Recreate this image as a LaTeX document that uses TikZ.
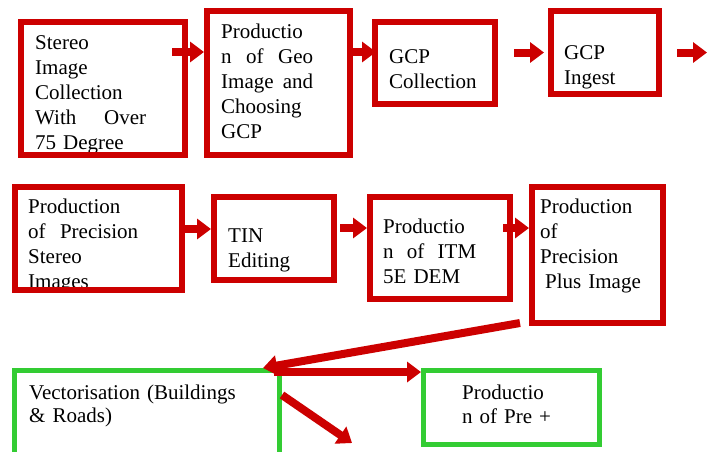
\documentclass[tikz,border=0pt]{standalone}
\usepackage{fontspec}
\setmainfont{Liberation Serif}
\usepackage{tikz}
\usetikzlibrary{arrows.meta,positioning}
\definecolor{stepred}{RGB}{204,0,0}
\definecolor{stepgreen}{RGB}{51,204,51}

\begin{document}
\begin{tikzpicture}[x=1pt, y=-1pt,
    redbox/.style={draw=stepred, line width=6pt, anchor=north west, inner sep=0pt},
    greenbox/.style={draw=stepgreen, line width=5pt, anchor=north west, inner sep=0pt},
    steptext/.style={anchor=base west, align=left, inner sep=0pt, text width=#1,
      font=\fontsize{21}{25}\selectfont},
    steptext/.default=150pt,
    flow/.style={draw=stepred, line width=8pt, -{Triangle[width=20pt,length=14pt]}}]

  \useasboundingbox (0,0) rectangle (714,451);
  \clip (0,0) rectangle (714,451);

  % Define texts
  \node[steptext=111pt] (stereotext) at (35,49) {Stereo\\Image\\Collection\\With \hfill Over\\75 Degree};
  \node[steptext=92pt] (geotext) at (221,38) {Productio\\n \hfill of \hfill Geo\\Image \hfill and\\Choosing\\GCP};
  \node[steptext] (gcpcoltext) at (389,63) {GCP\\Collection};
  \node[steptext] (ingesttext) at (564,59) {GCP\\Ingest};
  \node[steptext=110pt] (precstereotext) at (28,213) {Production\\of \hfill Precision\\Stereo\\Images};
  \node[steptext] (tintext) at (228,242) {TIN\\Editing};
  \node[steptext=93pt] (demtext) at (383,233) {Productio\\n \hfill of \hfill ITM\\5E DEM};
  \node[steptext] (plustext) at (540,213) {Production\\of\\Precision\\\hspace{5pt}Plus Image};
  \node[steptext=240pt, font=\fontsize{21}{23}\selectfont] (vectortext) at (29,399) {Vectorisation (Buildings\\\& Roads)};
  \node[steptext, font=\fontsize{21}{24}\selectfont] (pretext) at (462,399) {Productio\\n of Pre +};

  % Define nodes
  \node[redbox, minimum width=164pt, minimum height=133pt] (stereo) at (18,19) {};
  \node[redbox, minimum width=143pt, minimum height=144pt] (geo) at (204,8) {};
  \node[redbox, minimum width=120pt, minimum height=82pt] (gcpcol) at (372,19) {};
  \node[redbox, minimum width=108pt, minimum height=83pt] (ingest) at (548,8) {};
  \node[redbox, minimum width=167pt, minimum height=103pt] (precstereo) at (12,184) {};
  \node[redbox, minimum width=120pt, minimum height=83pt] (tin) at (211,194) {};
  \node[redbox, minimum width=140pt, minimum height=102pt] (dem) at (367,194) {};
  \node[redbox, minimum width=131pt, minimum height=136pt] (plus) at (529,184) {};
  \node[greenbox, minimum width=265pt, minimum height=100pt] (vector) at (12,368) {};
  \node[greenbox, minimum width=176pt, minimum height=74pt] (pre) at (421,368) {};
  \coordinate (next) at (707,52.5);
  \coordinate (down) at (352,443);

  % Connect the nodes
  \draw[flow] ([xshift=-16pt,yshift=36.5pt]stereo.east) -- ([yshift=31pt]geo.west);
  \draw[flow] ([yshift=31pt]geo.east) -- ([xshift=4pt,yshift=11pt]gcpcol.west);
  \draw[flow] ([xshift=16pt,yshift=10.5pt]gcpcol.east) -- ([xshift=-4pt]ingest.west);
  \draw[flow] ([xshift=15pt]ingest.east) -- (next);
  \draw[flow] ([yshift=9.5pt]precstereo.east) -- ([yshift=9.5pt]tin.west);
  \draw[flow] ([xshift=3pt,yshift=10.5pt]tin.east) -- ([yshift=20pt]dem.west);
  \draw[flow] ([xshift=-10pt,yshift=20pt]dem.east) -- ([yshift=27pt]plus.west);
  \draw[flow] ([xshift=-9pt,yshift=3pt]plus.south west) -- ([xshift=-19pt]vector.north east);
  \draw[flow] ([xshift=-8pt,yshift=-4pt]vector.north east) -- ([yshift=35.5pt]pre.west);
  \draw[flow] ([yshift=-27pt]vector.north east) -- (down);

\end{tikzpicture}
\end{document}
